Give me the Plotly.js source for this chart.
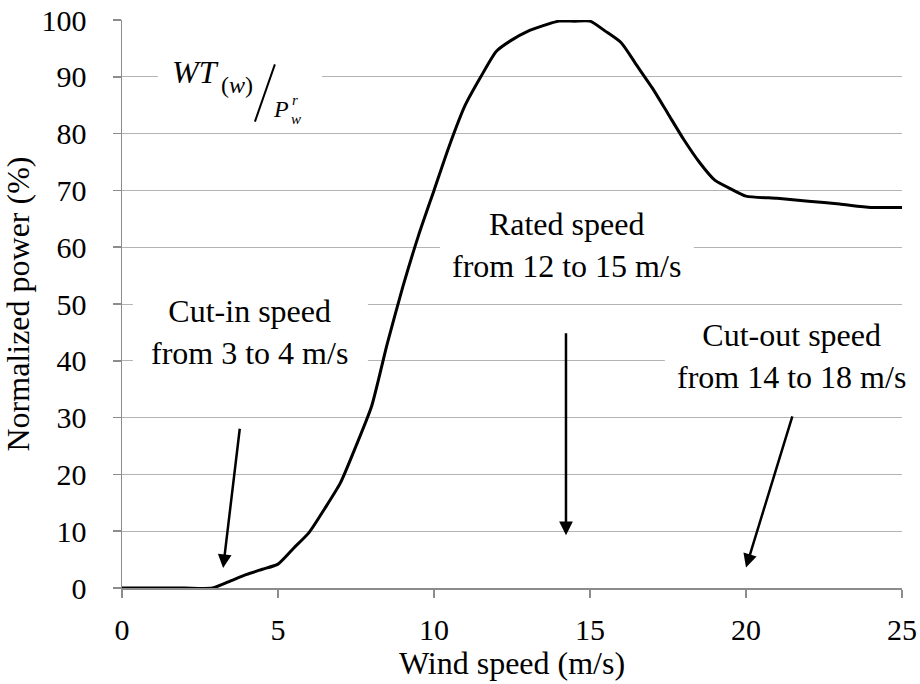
<!DOCTYPE html>
<html>
<head>
<meta charset="utf-8">
<script src="https://cdn.plot.ly/plotly-3.0.1.min.js"></script>
<style>html,body{margin:0;padding:0;background:#fff;}#chart{width:920px;height:684px;}</style>
</head>
<body>
<div id="chart"></div>
<script>
// Wind speed (m/s)
const windSpeed = [0,1,2,2.9,3.5,4,4.5,5,5.5,6,6.5,7,7.5,8,8.5,9,9.5,10,10.5,11,11.5,12,12.5,13,13.5,14,14.5,15,15.5,16,16.5,17,17.5,18,18.5,19,19.5,20,21,22,23,24,25];
// Normalized power (%)
const normPower = [0,0,0,0,1.3,2.4,3.3,4.2,7,9.8,14,18.5,25,32,43,53,62,70,78,85,90,94.5,96.5,98,99,99.8,99.8,99.8,98,96,92,88,83.5,79,75,71.8,70.3,69,68.6,68.1,67.6,67,67];
const xTicks = [0,5,10,15,20,25];
const yTicks = [0,10,20,30,40,50,60,70,80,90,100];

const serif = 'Liberation Serif, Times New Roman, serif';

const trace = {
  x: windSpeed, y: normPower, type: 'scatter', mode: 'lines',
  line: {color: '#000', width: 3, shape: 'spline', smoothing: 0.6},
  hoverinfo: 'skip'
};

// white masks hiding gridlines behind text blocks
const mask = (x0,x1,y0,y1) => ({type:'rect', xref:'x', yref:'y', x0:x0, x1:x1, y0:y0, y1:y1,
  fillcolor:'#fff', line:{width:0}, layer:'between'});

const shapes = [
  mask(1.15, 6.41, 87, 93),
  mask(0.35, 7.88, 37.5, 52.5),
  mask(10.19, 18.33, 58.2, 62.2),
  mask(17.40, 25.2, 38.4, 41.9),
  {type:'line', xref:'x', yref:'y', x0:4.26, y0:82.1, x1:4.90, y1:92.2, line:{color:'#000', width:2}, layer:'above'}
];

const txt = (x,y,text,size) => ({x:x, y:y, xref:'x', yref:'y', text:text, showarrow:false,
  font:{family:serif, size:size, color:'#000'}, xanchor:'center', yanchor:'middle'});
const arrow = (x,y,ax,ay) => ({x:x, y:y, ax:ax, ay:ay, xref:'x', yref:'y', axref:'x', ayref:'y',
  text:'', showarrow:true, arrowhead:2, arrowsize:1.1, arrowwidth:2.5, arrowcolor:'#000', standoff:0, startstandoff:0});

const annotations = [
  txt(4.10, 45.1, 'Cut-in speed<br>from 3 to 4 m/s', 32),
  txt(14.26, 60.4, 'Rated speed<br>from 12 to 15 m/s', 32),
  txt(21.47, 40.9, 'Cut-out speed<br>from 14 to 18 m/s', 32),
  arrow(3.24, 3.5, 3.78, 28.3),
  arrow(14.23, 9.3, 14.23, 45.1),
  arrow(20.0, 3.6, 21.5, 30.5),
  txt(2.37, 90.9, '<i>WT</i>', 32),
  txt(3.69, 88.6, '(<i>w</i>)', 24),
  txt(5.10, 84.3, '<i>P</i>', 24),
  txt(5.54, 86.0, '<i>r</i>', 15),
  txt(5.58, 82.5, '<i>w</i>', 15)
];

const layout = {
  width: 920, height: 684,
  margin: {l: 122, r: 18, t: 20, b: 96},
  paper_bgcolor: '#fff', plot_bgcolor: '#fff',
  showlegend: false,
  font: {family: serif, color: '#000'},
  xaxis: {
    range: [0, 25], tickvals: xTicks, ticktext: xTicks.map(String),
    showgrid: false, zeroline: false,
    showline: true, linecolor: '#8c8c8c', linewidth: 1.5,
    ticks: 'outside', ticklen: 8, tickcolor: '#8c8c8c', tickwidth: 1.5,
    tickfont: {family: serif, size: 30, color: '#000'}, ticklabelstandoff: 6,
    title: {text: 'Wind speed (m/s)', font: {family: serif, size: 32, color: '#000'}, standoff: 6},
    fixedrange: true
  },
  yaxis: {
    range: [0, 100], tickvals: yTicks, ticktext: yTicks.map(String),
    showgrid: true, gridcolor: '#b4b4b4', gridwidth: 1, zeroline: false,
    showline: true, linecolor: '#8c8c8c', linewidth: 1.5,
    ticks: 'outside', ticklen: 8, tickcolor: '#8c8c8c', tickwidth: 1.5,
    tickfont: {family: serif, size: 30, color: '#000'}, ticklabelstandoff: 20,
    title: {text: 'Normalized power (%)', font: {family: serif, size: 32, color: '#000'}, standoff: 2},
    fixedrange: true
  },
  shapes: shapes,
  annotations: annotations
};

Plotly.newPlot('chart', [trace], layout, {displayModeBar: false, staticPlot: true});
</script>
</body>
</html>
